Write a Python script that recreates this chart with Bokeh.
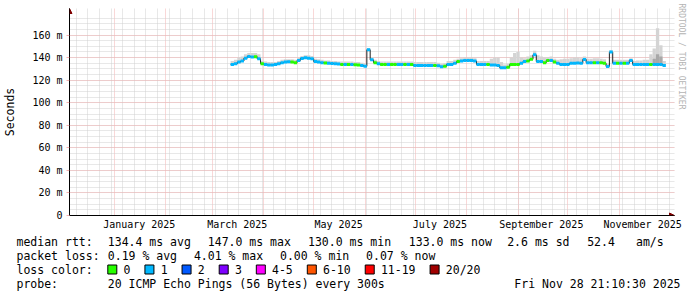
import math
from bokeh.plotting import figure
from bokeh.layouts import column
from bokeh.models import (ColumnDataSource, FixedTicker, Range1d, Title,
                          Arrow, NormalHead)
from bokeh.core.properties import value
from bokeh.embed import file_html
from bokeh.resources import INLINE

# ---------------- data (days counted from 2025-01-01) ----------------
sample_days = list(range(70, 332, 2))
median_ms = [
    134.0, 134.5, 136.0, 137.0, 139.5, 141.0, 140.5, 140.8, 139.0, 134.6,
    134.0, 133.5, 133.5, 133.8, 134.5, 135.5, 136.0, 136.3, 136.0, 135.5,
    137.5, 139.3, 139.8, 139.5, 139.0, 136.5, 136.0, 135.5, 135.2, 135.0,
    134.8, 134.5, 134.3, 134.0, 134.0, 134.0, 133.8, 133.6, 133.5, 133.0,
    132.3, 147.0, 138.0, 135.5, 134.5, 134.0, 134.0, 134.0, 134.0, 134.0,
    134.0, 134.0, 134.0, 134.0, 133.8, 133.0, 133.0, 133.0, 133.0, 133.0,
    133.0, 133.0, 132.8, 131.8, 132.3, 134.0, 134.0, 135.0, 136.5, 137.0,
    137.5, 137.5, 137.5, 137.0, 134.0, 134.0, 134.0, 134.0, 133.5, 133.5,
    133.0, 131.0, 131.0, 131.5, 134.0, 134.0, 134.0, 135.0, 136.6, 137.0,
    138.5, 142.5, 136.6, 136.5, 135.5, 137.5, 137.5, 136.0, 135.0, 134.0,
    134.0, 134.0, 135.0, 135.0, 135.2, 135.0, 138.4, 135.5, 135.5, 135.5,
    135.5, 135.5, 135.0, 132.2, 144.9, 135.0, 135.0, 135.0, 135.0, 135.0,
    137.5, 134.0, 134.0, 134.0, 134.0, 134.0, 134.0, 134.0, 134.0, 134.0,
    133.0,
]
loss_class = [
    1, 1, 1, 1, 1, 1, 1, 0, 1, 0,
    1, 1, 1, 1, 1, 1, 1, 1, 0, 0,
    1, 1, 1, 1, 1, 1, 1, 1, 0, 1,
    1, 1, 1, 0, 1, 0, 1, 0, 0, 1,
    1, 1, 1, 0, 1, 0, 0, 1, 0, 0,
    1, 1, 0, 1, 0, 1, 1, 1, 1, 1,
    1, 0, 1, 1, 0, 1, 1, 1, 0, 1,
    1, 1, 1, 1, 1, 1, 1, 0, 1, 1,
    1, 1, 1, 0, 0, 0, 0, 1, 1, 0,
    0, 1, 1, 1, 0, 0, 1, 0, 1, 1,
    1, 1, 1, 1, 1, 1, 1, 1, 1, 0,
    1, 0, 0, 1, 1, 1, 0, 1, 0, 1,
    1, 1, 1, 1, 1, 1, 0, 1, 1, 1,
    1,
]
smoke_top_ms = [
    137, 138, 140, 141, 143, 144, 144, 144, 143, 137,
    136.5, 136, 136, 136, 137, 138, 138.5, 138.5, 138.5, 138,
    140, 141.5, 142, 142, 141.5, 139, 138.5, 138, 137.5, 137.5,
    137, 137, 136.5, 136.5, 136.5, 136.5, 136.5, 136, 136, 135.5,
    135, 148.5, 140.5, 138, 137, 136.5, 136.5, 136.5, 136.5, 136.5,
    136.5, 136.5, 136.5, 136.5, 136.5, 136, 136, 136, 136, 136,
    136, 136, 135.5, 134.5, 135, 137, 137, 138, 139, 139.5,
    140, 140, 140, 139.5, 137, 137, 137, 137, 139, 140,
    140, 136, 134, 134.5, 140, 144, 145, 140, 139.5, 141,
    142, 146, 142, 141, 140, 140.5, 141, 139, 138, 138.5,
    139, 139, 139.5, 140, 140, 139.5, 141, 139, 139, 139.5,
    139.5, 139, 138.5, 134.5, 146.5, 138, 138, 138, 138, 138,
    139.5, 137, 137.5, 137.5, 138, 138, 143, 148, 166, 151,
    137,
]
core_days = [324, 326, 328]
core_bottom_ms = [134.0, 134.0, 134.0]
core_top_ms = [139.0, 143.0, 141.0]

loss_colors = ["#26ff00", "#00b8ff", "#0059ff", "#7e00ff",
               "#ff00ff", "#ff5500", "#ff0000", "#a00000"]
loss_labels = ["0", "1", "2", "3", "4-5", "6-10", "11-19", "20/20"]

month_starts = [0, 31, 59, 90, 120, 151, 181, 212, 243, 273, 304]
week_starts = list(range(-23, 335, 7))
label_days = [15, 74, 135, 196, 257, 318]
label_texts = ["January 2025", "March 2025", "May 2025", "July 2025",
               "September 2025", "November 2025"]
y_ticks = [0, 20, 40, 60, 80, 100, 120, 140, 160]
y_tick_labels = ["0", "20 m", "40 m", "60 m", "80 m", "100 m", "120 m",
                 "140 m", "160 m"]
y_minor = list(range(5, 180, 5))

# ---------------- main chart ----------------
W = 697
H_MAIN = 232
FL, FR, FT, FB = 67, 674, 8, 215
PX_PER_DAY = 600 / 360.0
PX_PER_MS = 203 / 180.0
X0 = -27.0
X1 = X0 + (FR - FL) / PX_PER_DAY
Y0 = 0.0
Y1 = (FB - FT) / PX_PER_MS
MONO = "DejaVu Sans Mono"

p = figure(width=W, height=H_MAIN, x_range=Range1d(X0, X1), y_range=Range1d(Y0, Y1),
           output_backend="svg", toolbar_location=None,
           min_border_left=FL, min_border_right=W - FR,
           min_border_top=FT, min_border_bottom=H_MAIN - FB)
p.frame_align = False
p.outline_line_color = None
p.background_fill_color = "white"
p.border_fill_color = "white"

p.xgrid.ticker = FixedTicker(ticks=month_starts, minor_ticks=week_starts)
p.ygrid.ticker = FixedTicker(ticks=y_ticks[1:], minor_ticks=y_minor)
for g in (p.xgrid, p.ygrid):
    g.grid_line_color = "#f2b0b0"
    g.grid_line_dash = "1 1"
    g.grid_line_width = 1
    g.minor_grid_line_color = "#d0d0d0"
    g.minor_grid_line_dash = "1 1"
    g.minor_grid_line_width = 1

xa = p.xaxis[0]
xa.ticker = FixedTicker(ticks=label_days)
xa.major_label_overrides = {d: t for d, t in zip(label_days, label_texts)}
xa.major_tick_line_color = None
xa.major_tick_out = 0
xa.major_tick_in = 0
xa.minor_tick_line_color = None
xa.major_label_standoff = 3
xa.major_label_text_font = MONO
xa.major_label_text_font_size = "10px"
xa.major_label_text_color = "#000000"
xa.axis_line_color = "#000000"

ya = p.yaxis[0]
ya.ticker = FixedTicker(ticks=y_ticks)
ya.major_label_overrides = {v: t for v, t in zip(y_ticks, y_tick_labels)}
ya.major_tick_out = 3
ya.major_tick_in = 0
ya.major_tick_line_color = "#f2b0b0"
ya.minor_tick_line_color = None
ya.major_label_standoff = 4
ya.major_label_text_font = MONO
ya.major_label_text_font_size = "10px"
ya.major_label_text_color = "#000000"
ya.axis_line_color = "#000000"
ya.axis_label = "Seconds"
ya.axis_label_text_font = MONO
ya.axis_label_text_font_size = "11.5px"
ya.axis_label_text_font_style = "normal"
ya.axis_label_text_color = "#000000"
ya.axis_label_standoff = 12

smoke = ColumnDataSource(dict(
    left=sample_days, right=[d + 2 for d in sample_days],
    bottom=median_ms, top=smoke_top_ms))
p.quad(left="left", right="right", bottom="bottom", top="top", source=smoke,
       fill_color="#d4d4d4", line_color=None)
core = ColumnDataSource(dict(
    left=core_days, right=[d + 2 for d in core_days],
    bottom=core_bottom_ms, top=core_top_ms))
p.quad(left="left", right="right", bottom="bottom", top="top", source=core,
       fill_color="#a8a8a8", line_color=None)

p.step(x=sample_days, y=median_ms, mode="after", line_color="#202020", line_width=1)

med = ColumnDataSource(dict(
    x0=sample_days, x1=[d + 2 for d in sample_days], y=median_ms,
    color=[loss_colors[c] for c in loss_class]))
p.segment(x0="x0", y0="y", x1="x1", y1="y", source=med, line_color="color",
          line_width=3)

head = dict(size=5, fill_color="#7f0000", line_color="#7f0000")
p.add_layout(Arrow(x_start=X0, y_start=Y0, x_end=X0, y_end=Y1,
                   line_color="#000000", line_width=1, end=NormalHead(**head)))
p.add_layout(Arrow(x_start=X0, y_start=Y0, x_end=X1, y_end=Y0,
                   line_color="#000000", line_width=1, end=NormalHead(**head)))

p.add_layout(Title(text="RRDTOOL / TOBI OETIKER", align="left", offset=-5,
                   standoff=4, text_font=MONO, text_font_size="8px",
                   text_font_style="normal", text_color="#b4b4b4"), "right")

# ---------------- legend area ----------------
H_LEG = 297 - H_MAIN
TOP = H_MAIN
lg = figure(width=W, height=H_LEG, x_range=Range1d(0, W), y_range=Range1d(H_LEG, 0),
            output_backend="svg", toolbar_location=None,
            x_axis_location=None, y_axis_location=None,
            min_border_left=0, min_border_right=0, min_border_top=0, min_border_bottom=0)
lg.frame_align = False
lg.outline_line_color = None
lg.xgrid.visible = False
lg.ygrid.visible = False

rows_y = [241 - TOP, 255 - TOP, 269 - TOP, 283 - TOP]
tx, ty, tt, ta = [], [], [], []


def put(x, y, t, align="left"):
    tx.append(x); ty.append(y); tt.append(t); ta.append(align)


put(16, rows_y[0], "median rtt:")
for x, t in [(107.3, "134.4 ms avg"), (207.3, "147.0 ms max"),
             (307.5, "130.0 ms min"), (408.3, "133.0 ms now"),
             (506.7, "2.6 ms sd"), (586.7, "52.4"), (635.5, "am/s")]:
    put(x, rows_y[0], t)
put(16, rows_y[1], "packet loss:")
for x, t in [(107.3, "0.19 % avg"), (193.4, "4.01 % max"),
             (279.5, "0.00 % min"), (365.6, "0.07 % now")]:
    put(x, rows_y[1], t)
put(16, rows_y[2], "loss color:")
put(16, rows_y[3], "probe:")
put(107.3, rows_y[3], "20 ICMP Echo Pings (56 Bytes) every 300s")
put(680, rows_y[3], "Fri Nov 28 21:10:30 2025", "right")

CHAR = 6.93
box_left = []
bx = 107.3
for lab in loss_labels:
    box_left.append(bx)
    put(bx + 15.7, rows_y[2], lab)
    bx += 30.2 + CHAR * len(lab)

txt = ColumnDataSource(dict(x=tx, y=ty, text=tt, align=ta))
lg.text(x="x", y="y", text="text", text_align="align", source=txt,
        text_font=value(MONO), text_font_size=value("11.5px"),
        text_baseline="middle", text_color="#000000")

boxes = ColumnDataSource(dict(
    left=box_left, right=[b + 9 for b in box_left],
    top=[264.5 - TOP] * len(box_left), bottom=[273.5 - TOP] * len(box_left),
    color=loss_colors))
lg.quad(left="left", right="right", top="top", bottom="bottom", source=boxes,
        fill_color="color", line_color="#000000", line_width=1)

layout = column(p, lg, spacing=0)
open("out.html", "w").write(file_html(layout, INLINE))
